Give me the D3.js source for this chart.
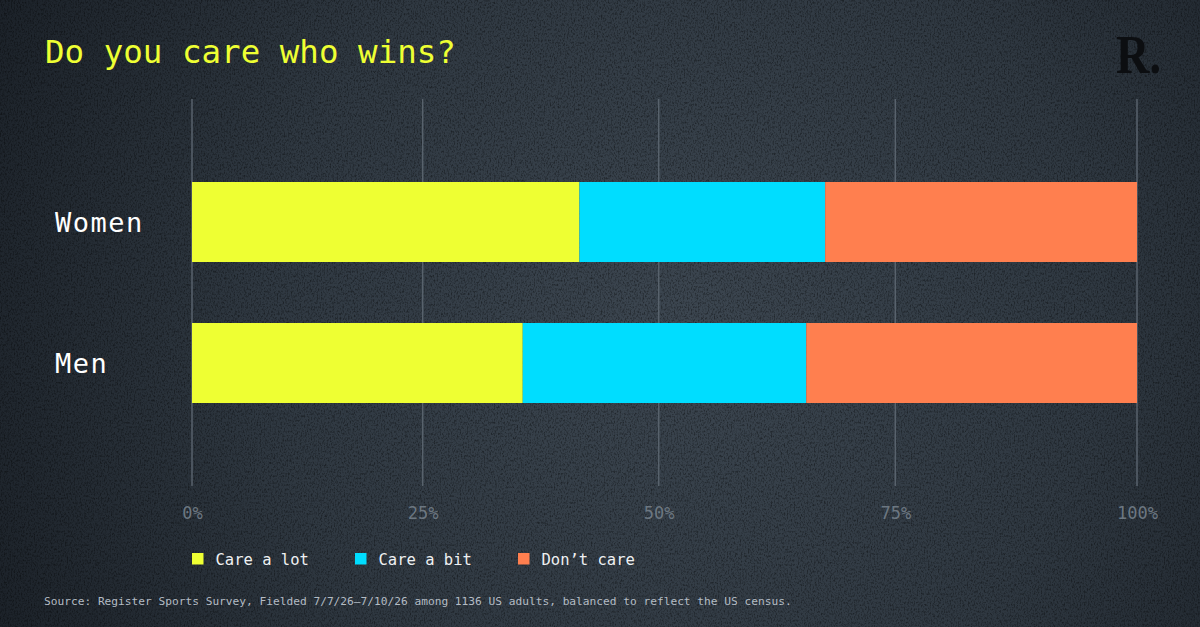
<!DOCTYPE html>
<html>
<head>
<meta charset="utf-8">
<script src="https://cdn.jsdelivr.net/npm/d3@7"></script>
<style>
  html, body { margin: 0; padding: 0; background: #2a323a; }
  svg { display: block; }
</style>
</head>
<body>
<div id="chart"></div>
<script>
var groups = ["Women", "Men"];
var careALot = [41, 35];
var careABit = [26, 30];
var dontCare = [33, 35];
var seriesNames = ["Care a lot", "Care a bit", "Don\u2019t care"];
var tickValues = [0, 25, 50, 75, 100];

var width = 1200;
var height = 627;
var colors = ["#eeff33", "#00ddff", "#ff7f4f"];
var mono = "'DejaVu Sans Mono', 'Liberation Mono', monospace";

var svg = d3.select("#chart")
  .append("svg")
  .attr("width", width)
  .attr("height", height);

var defs = svg.append("defs");

var bg = defs.append("radialGradient")
  .attr("id", "bg")
  .attr("gradientUnits", "userSpaceOnUse")
  .attr("cx", 680).attr("cy", 320).attr("r", 760);
bg.append("stop").attr("offset", "0%").attr("stop-color", "#3c4650");
bg.append("stop").attr("offset", "55%").attr("stop-color", "#2f3841");
bg.append("stop").attr("offset", "100%").attr("stop-color", "#1b2128");

// rough concrete texture
var grain = defs.append("filter").attr("id", "grain")
  .attr("x", 0).attr("y", 0).attr("width", "100%").attr("height", "100%");
grain.append("feTurbulence")
  .attr("type", "fractalNoise")
  .attr("baseFrequency", "0.7 0.45")
  .attr("numOctaves", 3)
  .attr("seed", 4)
  .attr("result", "noise");
grain.append("feColorMatrix")
  .attr("type", "matrix")
  .attr("values", "0 0 0 0 0  0 0 0 0 0  0 0 0 0 0  0 0 0 -2.6 1.45");

svg.append("rect")
  .attr("width", width).attr("height", height)
  .attr("fill", "url(#bg)");
svg.append("rect")
  .attr("width", width).attr("height", height)
  .attr("filter", "url(#grain)")
  .attr("opacity", 0.4);

// title + logo
svg.append("text")
  .attr("x", 45).attr("y", 63)
  .attr("font-family", mono)
  .attr("font-size", 32.5)
  .attr("fill", "#eeff33")
  .text("Do you care who wins?");

svg.append("text")
  .attr("x", 1116).attr("y", 73)
  .attr("font-family", "'Liberation Serif', 'DejaVu Serif', serif")
  .attr("font-weight", "bold")
  .attr("font-size", 54)
  .attr("textLength", 45)
  .attr("lengthAdjust", "spacingAndGlyphs")
  .attr("fill", "#0c0e11")
  .text("R.");

// scales
var x = d3.scaleLinear().domain([0, 100]).range([192, 1137]);
// the grid in the original sits a few px off the bar scale between the ends
var xGrid = d3.scaleLinear().domain(tickValues).range([192, 422.7, 658.7, 895.3, 1137]);
var y = d3.scaleBand().domain(groups).range([121, 464]).padding(0.4326);

var rows = groups.map(function (g, i) {
  return { group: g, lot: careALot[i], bit: careABit[i], dont: dontCare[i] };
});
var stack = d3.stack().keys(["lot", "bit", "dont"]);
var layers = stack(rows);

// grid lines
svg.append("g")
  .selectAll("line")
  .data(tickValues)
  .enter()
  .append("line")
  .attr("x1", d => xGrid(d)).attr("x2", d => xGrid(d))
  .attr("y1", 99).attr("y2", 486)
  .attr("stroke", "#58626c")
  .attr("stroke-width", 1.5);

// tick labels
svg.append("g")
  .selectAll("text")
  .data(tickValues)
  .enter()
  .append("text")
  .attr("x", d => xGrid(d) + 0.5)
  .attr("y", 519)
  .attr("text-anchor", "middle")
  .attr("font-family", mono)
  .attr("font-size", 17)
  .attr("fill", "#6c7781")
  .text(d => d + "%");

// bars
svg.append("g")
  .selectAll("g")
  .data(layers)
  .enter()
  .append("g")
  .attr("fill", (d, i) => colors[i])
  .selectAll("rect")
  .data(d => d)
  .enter()
  .append("rect")
  .attr("x", d => x(d[0]))
  .attr("y", d => y(d.data.group))
  .attr("width", d => x(d[1]) - x(d[0]))
  .attr("height", y.bandwidth());

// category labels
svg.append("g")
  .selectAll("text")
  .data(groups)
  .enter()
  .append("text")
  .attr("x", 55)
  .attr("y", d => y(d) + y.bandwidth() / 2 + 10)
  .attr("font-family", mono)
  .attr("font-size", 27)
  .attr("letter-spacing", 1.5)
  .attr("fill", "#ffffff")
  .text(d => d);

// legend
var legend = svg.append("g")
  .selectAll("g")
  .data(seriesNames)
  .enter()
  .append("g")
  .attr("transform", (d, i) => "translate(" + (192 + 163 * i) + ",553)");
legend.append("rect")
  .attr("width", 11.5).attr("height", 11.5)
  .attr("fill", (d, i) => colors[i]);
legend.append("text")
  .attr("x", 23.5).attr("y", 12)
  .attr("font-family", mono)
  .attr("font-size", 15.5)
  .attr("fill", "#eef0f2")
  .text(d => d);

// source
svg.append("text")
  .attr("x", 44).attr("y", 605)
  .attr("font-family", mono)
  .attr("font-size", 11.2)
  .attr("fill", "#b4bcc4")
  .text("Source: Register Sports Survey, Fielded 7/7/26\u20137/10/26 among 1136 US adults, balanced to reflect the US census.");
</script>
</body>
</html>
